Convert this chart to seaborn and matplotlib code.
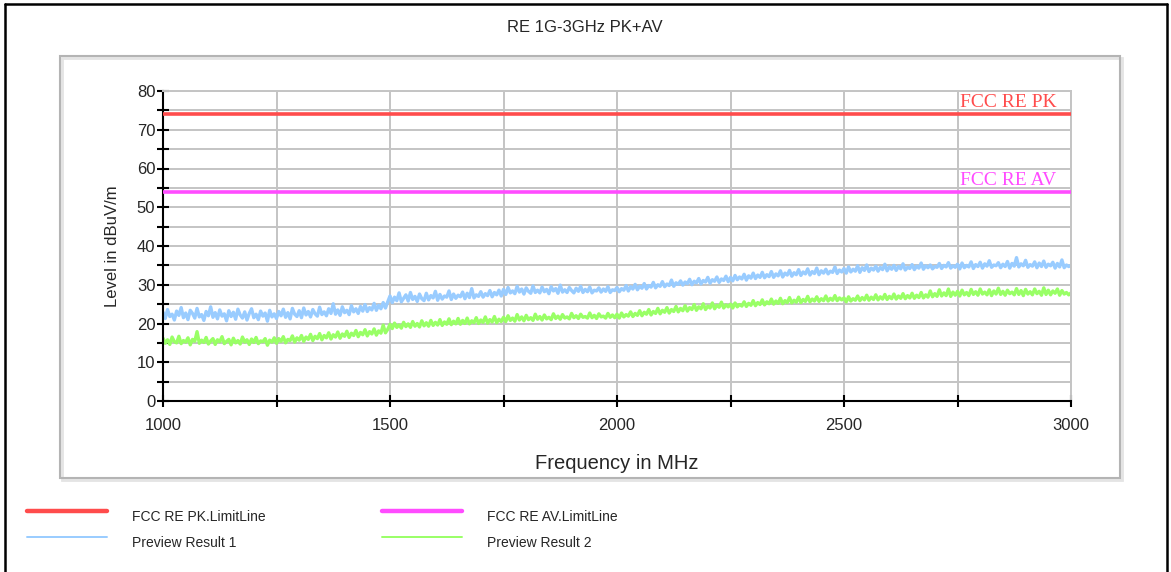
import numpy as np
import pandas as pd
import matplotlib
matplotlib.use("Agg")
import matplotlib.pyplot as plt
from matplotlib.lines import Line2D
from matplotlib.patches import Rectangle
import seaborn as sns

title = "RE 1G-3GHz PK+AV"
x_label = "Frequency in MHz"
y_label = "Level in dBuV/m"
freq_start, freq_stop = 1000, 3000

limit_names = ["FCC RE PK.LimitLine", "FCC RE AV.LimitLine"]
limit_tags = ["FCC RE PK", "FCC RE AV"]
limit_values = [74.0, 54.0]

# Preview Result 1 (dBuV/m), 5 MHz steps from 1000 to 3000 MHz
result1 = [
    22.9, 21.3, 23.6, 21.8, 22.4, 20.9, 23.2, 22.1, 24.1, 21.5,
    22.7, 21.0, 23.4, 22.6, 21.4, 23.9, 21.7, 22.3, 20.8, 23.1,
    22.0, 24.3, 21.6, 22.8, 21.2, 23.5, 21.9, 22.5, 20.7, 23.3,
    21.8, 22.9, 21.1, 23.7, 22.2, 21.4, 23.0, 20.9, 22.6, 23.8,
    21.5, 22.4, 21.0, 23.2, 21.9, 22.7, 20.6, 23.4, 21.7, 22.5,
    21.3, 23.1, 22.0, 23.7, 21.6, 22.8, 21.2, 23.9, 22.4, 21.8,
    23.3, 21.5, 24.0, 22.2, 23.1, 21.7, 23.6, 22.5, 21.9, 24.2,
    22.3, 23.0, 22.0, 23.8, 22.6, 25.1, 22.4, 23.5, 22.1, 24.3,
    22.8, 23.4, 22.3, 24.6, 23.0, 23.8, 22.6, 24.4, 23.2, 24.9,
    23.1, 24.1, 23.5, 25.2, 23.4, 24.7, 23.8, 25.4, 24.0, 25.6,
    27.1, 25.4, 26.8, 25.9, 27.9, 25.6, 26.5, 27.4, 25.8, 28.0,
    26.2, 27.0, 25.7, 27.6, 26.4, 25.9, 27.8, 26.1, 27.2, 26.6,
    28.3, 26.0, 27.5, 26.3, 27.1, 26.8, 28.4, 26.2, 27.6, 26.5,
    27.3, 26.9, 28.1, 26.4, 27.8, 26.7, 29.0, 26.6, 27.4, 27.0,
    28.2, 26.8, 27.7, 27.2, 28.5, 26.9, 28.0, 27.4, 28.6, 27.1,
    28.8, 27.5, 29.3, 27.9, 28.4, 27.7, 29.6, 28.1, 28.9, 27.6,
    29.2, 28.3, 27.8, 29.7, 28.0, 28.6, 27.9, 29.4, 28.2, 28.8,
    27.7, 29.5, 28.4, 29.0, 27.8, 29.9, 28.1, 28.7, 28.0, 29.3,
    28.5, 27.9, 29.1, 28.3, 29.6, 28.0, 28.8, 28.2, 29.4, 27.9,
    28.6, 28.4, 29.2, 28.1, 28.9, 28.3, 29.5, 28.0, 28.7, 28.5,
    29.3, 28.2, 29.0, 28.6, 29.8, 28.4, 29.5, 28.9, 30.1, 28.7,
    29.6, 29.1, 30.3, 28.9, 29.8, 29.4, 30.6, 29.2, 30.0, 29.6,
    30.8, 29.5, 30.2, 29.8, 31.2, 29.6, 30.5, 30.1, 31.0, 29.9,
    30.7, 30.3, 31.4, 30.0, 30.9, 30.5, 31.6, 30.2, 31.1, 30.7,
    31.9, 30.4, 31.3, 30.9, 32.0, 30.6, 31.5, 31.1, 32.2, 30.8,
    31.9, 31.0, 32.4, 31.3, 32.0, 31.5, 32.7, 31.2, 32.3, 31.7,
    33.0, 31.6, 32.5, 31.9, 33.2, 31.8, 32.6, 32.1, 33.4, 31.9,
    32.8, 32.3, 33.6, 32.0, 33.0, 32.5, 33.7, 32.2, 33.1, 32.6,
    33.9, 32.4, 33.3, 32.8, 34.1, 32.5, 33.4, 32.9, 34.3, 32.6,
    33.6, 33.0, 34.0, 32.8, 33.5, 33.2, 34.6, 32.9, 33.8, 33.3,
    34.2, 33.0, 34.6, 33.3, 34.0, 33.5, 34.9, 33.2, 34.4, 33.7,
    35.1, 33.4, 34.3, 33.8, 34.8, 33.5, 34.5, 33.9, 35.3, 33.6,
    34.6, 34.0, 35.0, 33.7, 34.7, 34.1, 35.4, 33.8, 34.5, 34.2,
    35.2, 33.9, 34.8, 34.3, 35.6, 34.0, 34.9, 34.4, 35.1, 34.1,
    34.7, 34.5, 35.5, 34.2, 35.0, 34.6, 35.7, 34.3, 34.9, 34.5,
    35.3, 34.1, 35.6, 34.4, 35.0, 34.6, 35.9, 34.2, 35.2, 34.7,
    35.8, 34.3, 35.4, 34.8, 36.2, 34.5, 35.1, 34.9, 35.7, 34.4,
    35.3, 34.7, 36.0, 34.3, 35.5, 34.8, 37.0, 34.6, 35.4, 34.9,
    36.3, 34.5, 35.2, 34.8, 35.9, 34.4, 35.6, 34.7, 36.1, 34.5,
    35.3, 34.9, 35.8, 34.3, 35.5, 34.6, 36.4, 34.4, 35.1, 34.7,
    35.0,
]

# Preview Result 2 (dBuV/m), 5 MHz steps from 1000 to 3000 MHz
result2 = [
    16.2, 14.9, 15.8, 14.6, 16.5, 15.3, 15.0, 16.7, 14.8, 15.6,
    15.2, 16.3, 14.5, 15.9, 15.4, 17.9, 14.9, 15.7, 15.1, 16.4,
    14.7, 15.5, 16.1, 14.6, 15.8, 15.3, 16.6, 14.8, 15.4, 15.9,
    14.5, 16.2, 15.0, 15.6, 14.7, 16.5, 15.2, 15.8, 14.6, 16.0,
    15.1, 16.4, 14.8, 15.5, 15.3, 16.1, 14.4, 15.7, 15.2, 16.3,
    14.9, 16.1, 15.4, 16.6, 15.0, 15.9, 15.6, 16.8, 15.2, 16.3,
    15.7, 16.9, 15.4, 16.5, 15.9, 17.2, 15.6, 16.7, 16.1, 17.4,
    15.8, 16.9, 16.3, 17.6, 16.0, 17.1, 16.5, 17.8, 16.2, 17.3,
    16.7, 18.0, 16.4, 17.5, 16.9, 18.2, 16.6, 17.7, 17.1, 18.4,
    16.8, 17.9, 17.3, 18.6, 17.0, 18.1, 17.5, 19.6, 17.6, 18.5,
    19.8, 18.7, 20.1, 19.0, 19.6, 18.8, 20.3, 19.2, 19.9, 19.0,
    20.5, 19.3, 20.0, 19.1, 20.7, 19.4, 20.2, 19.3, 20.8, 19.5,
    20.3, 19.6, 21.0, 19.5, 20.4, 19.8, 21.2, 19.7, 20.6, 19.9,
    21.3, 19.8, 20.8, 20.0, 21.4, 19.9, 20.7, 20.2, 21.5, 20.0,
    20.9, 20.3, 21.7, 20.1, 21.0, 20.4, 21.8, 20.2, 21.1, 20.5,
    21.6, 20.5, 22.0, 20.8, 21.4, 20.6, 22.3, 20.9, 21.7, 20.7,
    22.1, 21.0, 21.5, 20.8, 22.4, 21.1, 21.8, 20.9, 22.2, 21.2,
    21.6, 21.0, 22.5, 21.3, 21.9, 21.1, 22.3, 21.4, 21.7, 21.2,
    22.6, 21.5, 22.0, 21.3, 22.4, 21.6, 21.8, 21.4, 22.7, 21.5,
    22.1, 21.3, 22.5, 21.7, 21.9, 21.4, 22.6, 21.6, 22.2, 21.5,
    22.4, 21.4, 22.7, 21.7, 22.3, 21.9, 23.0, 21.8, 22.6, 22.1,
    23.3, 22.0, 22.9, 22.4, 23.6, 22.2, 23.1, 22.6, 23.9, 22.5,
    23.4, 22.9, 24.1, 22.7, 23.6, 23.1, 24.4, 23.0, 23.9, 23.3,
    24.6, 23.2, 24.1, 23.6, 24.9, 23.4, 24.3, 23.8, 25.1, 23.6,
    24.5, 24.0, 25.3, 23.8, 24.7, 24.2, 25.5, 24.0, 24.8, 24.3,
    25.0, 24.0, 25.3, 24.3, 24.9, 24.5, 25.6, 24.4, 25.2, 24.7,
    25.9, 24.6, 25.4, 24.9, 26.1, 24.8, 25.6, 25.1, 26.3, 25.0,
    25.8, 25.2, 26.5, 25.1, 25.9, 25.4, 26.7, 25.3, 26.0, 25.5,
    26.8, 25.4, 26.2, 25.7, 27.0, 25.6, 26.3, 25.8, 26.9, 25.7,
    26.4, 25.9, 27.1, 25.8, 26.5, 26.0, 27.2, 25.9, 26.6, 26.1,
    26.6, 25.6, 26.9, 25.8, 26.4, 26.0, 27.1, 25.9, 26.7, 26.1,
    27.3, 26.0, 26.8, 26.2, 27.4, 26.1, 26.9, 26.3, 27.5, 26.2,
    27.0, 26.4, 27.6, 26.3, 27.1, 26.5, 27.7, 26.4, 27.2, 26.6,
    27.8, 26.5, 27.3, 26.7, 28.0, 26.6, 27.4, 26.8, 28.4, 26.9,
    27.7, 27.0, 28.7, 27.1, 27.9, 27.2, 28.9, 27.0, 28.1, 27.3,
    28.3, 27.1, 28.6, 27.4, 28.0, 27.2, 28.8, 27.5, 28.2, 27.3,
    28.9, 27.6, 28.1, 27.4, 28.7, 27.2, 28.4, 27.6, 29.1, 27.5,
    28.3, 27.3, 28.6, 27.7, 28.1, 27.4, 29.0, 27.5, 28.5, 27.2,
    28.8, 27.6, 28.2, 27.4, 28.9, 27.7, 28.3, 27.3, 29.2, 27.5,
    28.6, 27.4, 28.4, 27.8, 28.9, 27.3, 28.5, 27.6, 28.0, 27.4,
    27.9,
]
result_names = ["Preview Result 1", "Preview Result 2"]

c_pk, c_av, c_r1, c_r2 = "#ff4c4c", "#ff4cff", "#99ccff", "#99ff66"

sns.set_style("white")
plt.rcParams["font.family"] = ["Liberation Sans", "DejaVu Sans"]

fig = plt.figure(figsize=(11.71, 5.72), dpi=100)
W, H = 1171, 572

def fx(px):
    return px / W

def fy(py):
    return 1 - py / H

# outer frame (left, top, right)
for (x0, y0, x1, y1) in [(5, 4, 5, 572), (5, 4, 1167, 4), (1167, 4, 1167, 572)]:
    fig.add_artist(Line2D([fx(x0), fx(x1)], [fy(y0), fy(y1)], color="black", lw=1.8))

# inner panel with shadow
fig.add_artist(Rectangle((fx(62), fy(480)), fx(1122) - fx(62), fy(58) - fy(480),
                         facecolor="none", edgecolor="#e4e4e4", lw=2.0))
fig.add_artist(Rectangle((fx(60), fy(478)), fx(1120) - fx(60), fy(56) - fy(478),
                         facecolor="none", edgecolor="#b4b4b4", lw=1.5))

ax = fig.add_axes([fx(163), fy(401), fx(1071) - fx(163), fy(91) - fy(401)])

f1 = np.linspace(freq_start, freq_stop, len(result1))
f2 = np.linspace(freq_start, freq_stop, len(result2))
df = pd.concat([
    pd.DataFrame({"freq": f1, "level": result1, "series": result_names[0]}),
    pd.DataFrame({"freq": f2, "level": result2, "series": result_names[1]}),
])
sns.lineplot(data=df, x="freq", y="level", hue="series",
             palette={result_names[0]: c_r1, result_names[1]: c_r2},
             lw=2.4, ax=ax, legend=False, estimator=None, sort=False)

for val, col in zip(limit_values, [c_pk, c_av]):
    ax.axhline(val, color=col, lw=2.6, zorder=4)

for val, tag, col in zip(limit_values, limit_tags, [c_pk, c_av]):
    ax.text(2968, val + 0.8, tag, color=col, ha="right", va="bottom",
            fontsize=14, family=["Liberation Serif", "DejaVu Serif"])

ax.set_xlim(freq_start, freq_stop)
ax.set_ylim(0, 80)
ax.set_xticks(np.arange(1000, 3001, 500))
ax.set_xticks(np.arange(1250, 3000, 500), minor=True)
ax.set_yticks(np.arange(0, 81, 10))
ax.set_yticks(np.arange(5, 80, 10), minor=True)
ax.grid(True, which="both", color="#c4c4c4", lw=1.4, zorder=0)
ax.set_axisbelow(True)

for s in ["top", "right"]:
    ax.spines[s].set_color("#c4c4c4")
    ax.spines[s].set_linewidth(1.4)
for s in ["left", "bottom"]:
    ax.spines[s].set_color("black")
    ax.spines[s].set_linewidth(1.5)

ax.tick_params(axis="both", which="both", direction="inout", length=9, width=1.5,
               color="black", bottom=True, left=True, top=False, right=False)
ax.tick_params(axis="y", which="major", labelsize=12, pad=1)
ax.tick_params(axis="x", which="major", labelsize=12, pad=8)

ax.set_xlabel(x_label, fontsize=14.5, labelpad=15)
ax.set_ylabel(y_label, fontsize=12, labelpad=12)

fig.text(fx(585), fy(27), title, ha="center", va="center", fontsize=12)

# legend rows
entries = [
    (27, 107, 511, 132, limit_names[0], c_pk, 3.2),
    (382, 462, 511, 487, limit_names[1], c_av, 3.2),
    (27, 107, 537, 132, result_names[0], c_r1, 1.4),
    (382, 462, 537, 487, result_names[1], c_r2, 1.4),
]
for x0, x1, yl, xt, name, col, lw in entries:
    fig.add_artist(Line2D([fx(x0), fx(x1)], [fy(yl), fy(yl)], color=col, lw=lw,
                          solid_capstyle="round"))
    fig.text(fx(xt), fy(yl + 6), name, ha="left", va="center", fontsize=10)

fig.savefig("out.png", dpi=100)
